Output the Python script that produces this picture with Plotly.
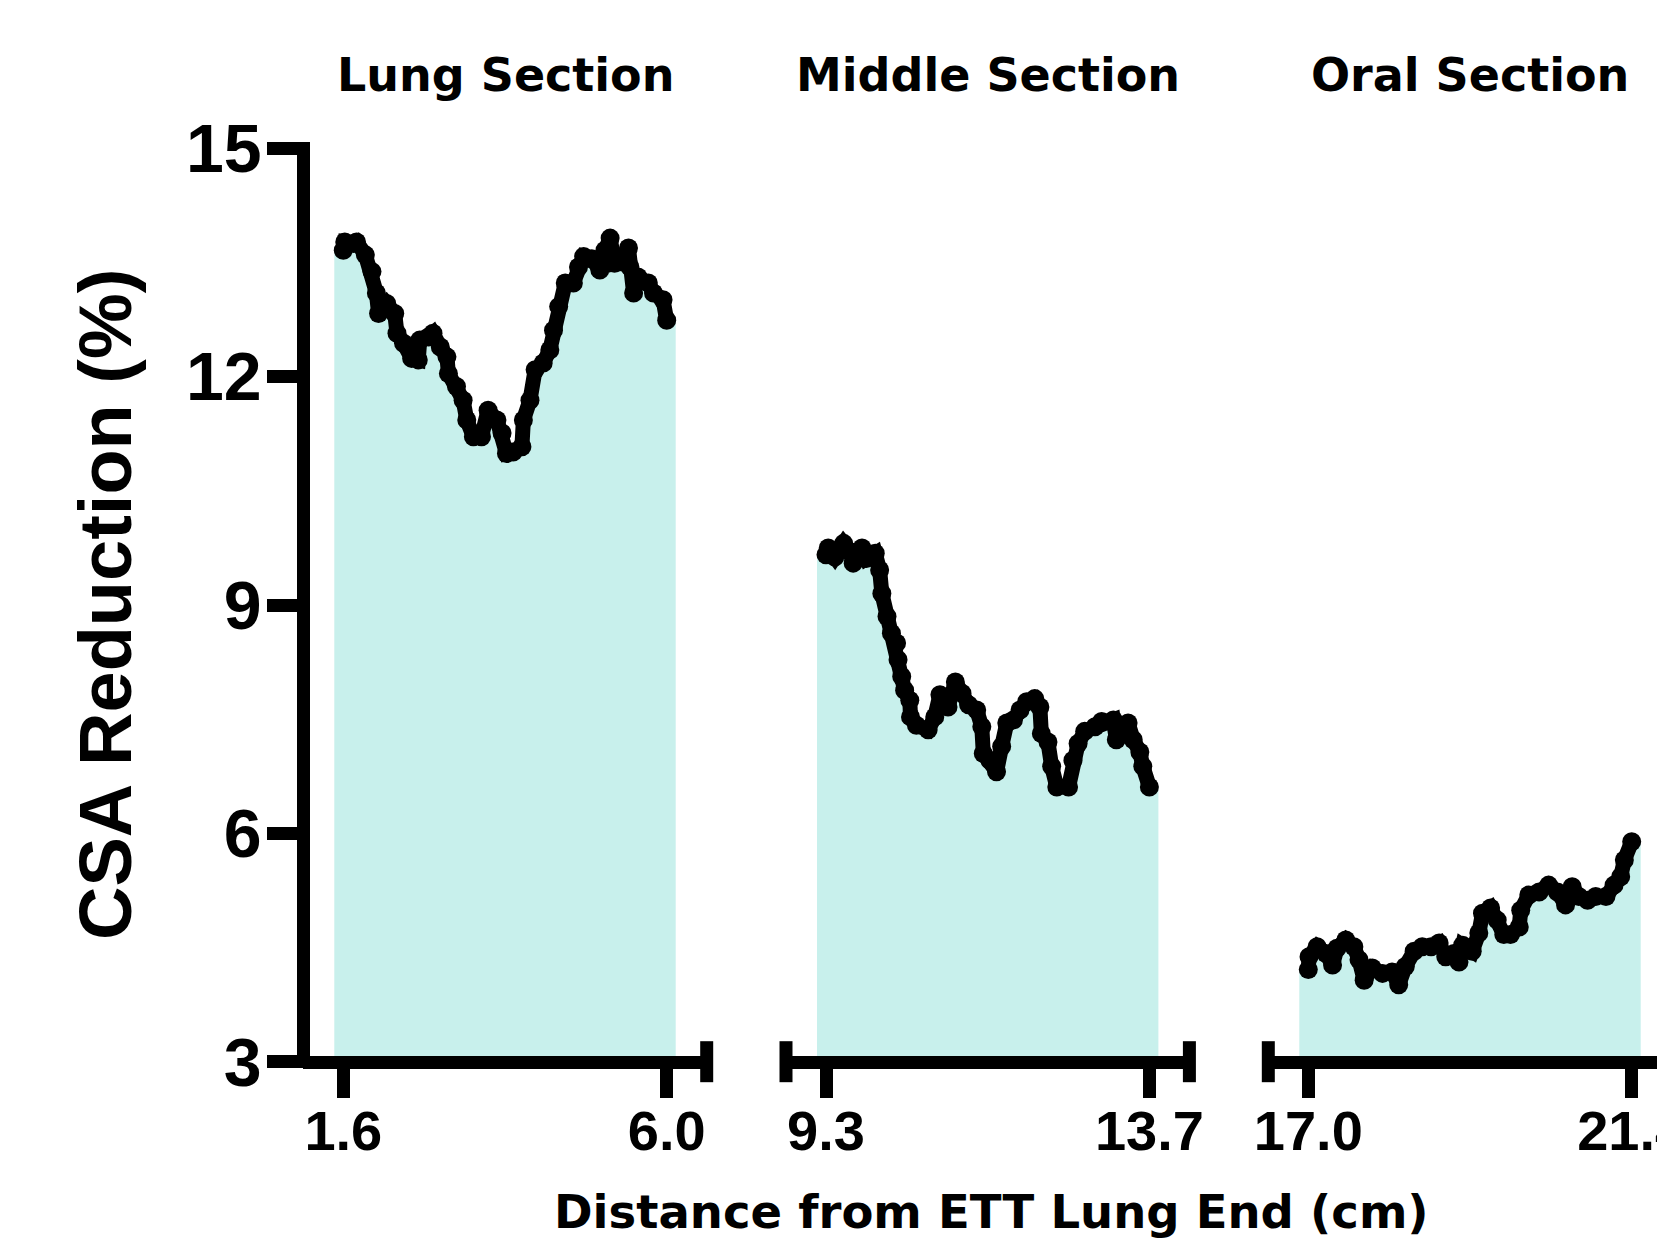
import plotly.graph_objects as go

# ---------------- data ----------------
lung_x = [1.60, 1.62, 1.74, 1.78, 1.90, 1.99, 2.05, 2.08, 2.19, 2.30, 2.33, 2.42, 2.53, 2.62,
          2.64, 2.76, 2.82, 2.92, 3.01, 3.03, 3.14, 3.23, 3.28, 3.37, 3.48, 3.57, 3.69, 3.76,
          3.82, 3.91, 4.03, 4.05, 4.14, 4.21, 4.32, 4.41, 4.46, 4.53, 4.62, 4.73, 4.80, 4.87,
          4.98, 5.09, 5.16, 5.23, 5.29, 5.36, 5.48, 5.50, 5.55, 5.61, 5.75, 5.82, 5.95, 6.00]
lung_y = [13.66, 13.77, 13.75, 13.77, 13.60, 13.38, 13.10, 12.83, 12.96, 12.83, 12.57, 12.44,
          12.24, 12.22, 12.48, 12.52, 12.57, 12.39, 12.26, 12.04, 11.87, 11.69, 11.43, 11.21,
          11.21, 11.56, 11.43, 11.26, 10.99, 11.01, 11.08, 11.43, 11.69, 12.09, 12.18, 12.35,
          12.61, 12.92, 13.23, 13.23, 13.44, 13.58, 13.55, 13.40, 13.66, 13.82, 13.49, 13.51,
          13.69, 13.44, 13.10, 13.31, 13.23, 13.10, 13.01, 12.74]

middle_x = [9.30, 9.33, 9.42, 9.54, 9.63, 9.67, 9.79, 9.85, 9.97, 10.03, 10.06, 10.13, 10.19,
            10.26, 10.28, 10.33, 10.37, 10.44, 10.45, 10.53, 10.69, 10.78, 10.85, 10.96, 11.06,
            11.15, 11.24, 11.35, 11.42, 11.44, 11.53, 11.62, 11.69, 11.76, 11.85, 11.94, 12.03,
            12.14, 12.21, 12.23, 12.32, 12.37, 12.44, 12.60, 12.66, 12.73, 12.82, 12.96, 13.05,
            13.21, 13.25, 13.41, 13.48, 13.57, 13.61, 13.70]
middle_y = [9.66, 9.75, 9.63, 9.81, 9.70, 9.55, 9.75, 9.61, 9.68, 9.46, 9.15, 8.85, 8.63, 8.50,
            8.28, 8.06, 7.88, 7.75, 7.53, 7.42, 7.36, 7.53, 7.82, 7.66, 7.99, 7.84, 7.69, 7.62,
            7.40, 7.05, 6.96, 6.81, 7.14, 7.45, 7.49, 7.62, 7.73, 7.77, 7.66, 7.31, 7.20, 6.88,
            6.61, 6.61, 6.96, 7.18, 7.34, 7.40, 7.47, 7.49, 7.23, 7.45, 7.23, 7.07, 6.88, 6.61]

oral_x = [17.00, 17.01, 17.12, 17.24, 17.33, 17.39, 17.51, 17.62, 17.69, 17.76, 17.87, 18.01,
          18.14, 18.23, 18.32, 18.44, 18.55, 18.67, 18.78, 18.87, 18.98, 19.05, 19.10, 19.23,
          19.32, 19.37, 19.48, 19.57, 19.66, 19.75, 19.87, 19.89, 20.00, 20.14, 20.27, 20.39,
          20.50, 20.59, 20.68, 20.80, 20.91, 21.05, 21.16, 21.25, 21.30, 21.40]
oral_y = [4.21, 4.38, 4.51, 4.42, 4.27, 4.49, 4.60, 4.51, 4.34, 4.07, 4.23, 4.16, 4.18, 4.01,
          4.25, 4.45, 4.51, 4.51, 4.56, 4.38, 4.42, 4.31, 4.53, 4.45, 4.69, 4.95, 5.02, 4.86,
          4.67, 4.67, 4.77, 4.99, 5.19, 5.23, 5.32, 5.23, 5.06, 5.30, 5.17, 5.12, 5.17, 5.17,
          5.32, 5.43, 5.65, 5.89]

section_titles = ["Lung Section", "Middle Section", "Oral Section"]
x_tick_vals = [[1.6, 6.0], [9.3, 13.7], [17.0, 21.4]]
x_tick_text = [["1.6", "6.0"], ["9.3", "13.7"], ["17.0", "21.4"]]
y_tick_vals = [3, 6, 9, 12, 15]
y_tick_text = ["3", "6", "9", "12", "15"]
x_title = "Distance from ETT Lung End (cm)"
y_title = "CSA Reduction (%)"

# ---------------- geometry (screen pixels) ----------------
W, H = 1665, 1239
OFF = 8                    # page body margin of the html page
PX_PER_CM = 73.5
PX_PER_Y = 76.12
LW = 13
Y_AXIS_X = 303.3           # centre of the y axis line
X_AXIS_Y = 1061.7          # pixel of y = 3 (centre of x axis lines)
Y_TOP = 148.3              # pixel of y = 15
SEG_LEFT = [303.3, 786.0, 1268.3]
SEG_W = 403.4
PAD = 40.0                 # px from segment start to first tick
FILL_EXT = 9.0             # px the shading extends beyond the data
CAP_HALF = 20.5


def px(xs):
    return (xs - OFF) / W


def py(ys):
    return 1 - (ys - OFF) / H


FILL = "#C8F0EC"
FONT_AR = "Liberation Sans, Arial, sans-serif"
FONT_DV = "DejaVu Sans, sans-serif"

series = [(lung_x, lung_y), (middle_x, middle_y), (oral_x, oral_y)]

fig = go.Figure()
for i, (xs, ys) in enumerate(series):
    xa = "x" if i == 0 else f"x{i+1}"
    ext = FILL_EXT / PX_PER_CM
    fx = [xs[0] - ext] + list(xs) + [xs[-1] + ext]
    fy = [ys[0]] + list(ys) + [ys[-1]]
    fig.add_trace(go.Scatter(x=fx, y=fy, xaxis=xa, yaxis="y", mode="lines",
                             line=dict(width=0, color=FILL), fill="tozeroy",
                             fillcolor=FILL, hoverinfo="skip", showlegend=False))
    fig.add_trace(go.Scatter(x=xs, y=ys, xaxis=xa, yaxis="y", mode="lines+markers",
                             line=dict(color="black", width=15),
                             marker=dict(color="black", size=19),
                             showlegend=False, name=section_titles[i]))

y_dom = [py(X_AXIS_Y + LW / 2), py(Y_TOP - LW / 2)]
y_rng = [3 - (LW / 2) / PX_PER_Y, 15 + (LW / 2) / PX_PER_Y]

layout = dict(
    width=W, height=H,
    margin=dict(l=0, r=0, t=0, b=0, pad=0),
    paper_bgcolor="white", plot_bgcolor="white",
    showlegend=False,
    yaxis=dict(domain=y_dom, range=y_rng, anchor="free", position=px(Y_AXIS_X),
               showline=True, linecolor="black", linewidth=LW,
               ticks="outside", ticklen=30, tickwidth=LW, tickcolor="black",
               tickvals=y_tick_vals, ticktext=y_tick_text, ticklabelstandoff=-8,
               tickfont=dict(family=FONT_AR, size=68, color="black", weight="bold"),
               showgrid=False, zeroline=False, automargin=False, fixedrange=True),
)

caps = []
for i in range(3):
    key = "xaxis" if i == 0 else f"xaxis{i+1}"
    left = SEG_LEFT[i]
    right = min(left + SEG_W, W + OFF)
    first = x_tick_vals[i][0]
    r0 = first - PAD / PX_PER_CM
    r1 = r0 + (right - left) / PX_PER_CM
    layout[key] = dict(domain=[px(left), px(right)], range=[r0, r1],
                       anchor="free", position=py(X_AXIS_Y),
                       showline=True, linecolor="black", linewidth=LW,
                       ticks="outside", ticklen=29, tickwidth=LW, tickcolor="black",
                       tickvals=x_tick_vals[i], ticktext=x_tick_text[i],
                       ticklabelstandoff=-15, ticklabeloverflow="allow",
                       tickfont=dict(family=FONT_AR, size=56, color="black", weight="bold"),
                       showgrid=False, zeroline=False, automargin=False, fixedrange=True)
    ends = []
    if i > 0:
        ends.append(left)
    if left + SEG_W <= W:
        ends.append(left + SEG_W)
    for e in ends:
        caps.append(dict(type="line", xref="paper", yref="paper",
                         x0=px(e), x1=px(e),
                         y0=py(X_AXIS_Y - CAP_HALF), y1=py(X_AXIS_Y + CAP_HALF),
                         line=dict(color="black", width=LW)))

annotations = []
for i, t in enumerate(section_titles):
    cx = SEG_LEFT[i] + SEG_W / 2
    annotations.append(dict(text=t, xref="paper", yref="paper", x=px(cx), y=py(75),
                            xanchor="center", yanchor="middle", showarrow=False,
                            font=dict(family=FONT_DV, size=46, color="black", weight="bold")))
annotations.append(dict(text=x_title, xref="paper", yref="paper", x=px(992), y=py(1212),
                        xanchor="center", yanchor="middle", showarrow=False,
                        font=dict(family=FONT_DV, size=46.5, color="black", weight="bold")))
annotations.append(dict(text=y_title, xref="paper", yref="paper", x=px(106), y=py(605),
                        xanchor="center", yanchor="middle", showarrow=False, textangle=-90,
                        font=dict(family=FONT_AR, size=74, color="black", weight="bold")))

layout["shapes"] = caps
layout["annotations"] = annotations
fig.update_layout(**layout)

fig.write_html("out.html", config=dict(displayModeBar=False))
